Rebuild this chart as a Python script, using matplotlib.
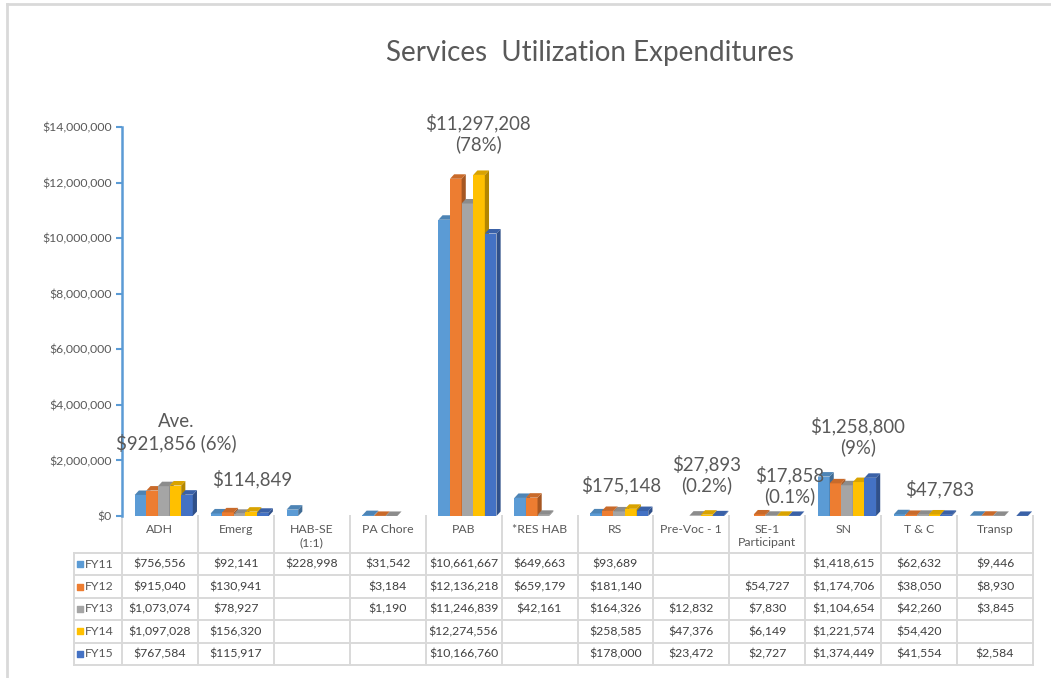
"""
Services utilization expenditures: 3D-look clustered columns with a data table underneath.
"""

import matplotlib
matplotlib.use("Agg")
import matplotlib.pyplot as plt
import numpy as np
from matplotlib.lines import Line2D
from matplotlib.patches import Polygon
from matplotlib.ticker import FuncFormatter

plt.rcParams["font.family"] = ["Lato", "DejaVu Sans"]

nan = np.nan

categories = ["ADH", "Emerg", "HAB-SE\n(1:1)", "PA Chore", "PAB", "*RES HAB", "RS",
              "Pre-Voc - 1", "SE-1\nParticipant", "SN", "T & C", "Transp"]
years = ["FY11", "FY12", "FY13", "FY14", "FY15"]

fy11 = [756556, 92141, 228998, 31542, 10661667, 649663, 93689, nan, nan, 1418615, 62632, 9446]
fy12 = [915040, 130941, nan, 3184, 12136218, 659179, 181140, nan, 54727, 1174706, 38050, 8930]
fy13 = [1073074, 78927, nan, 1190, 11246839, 42161, 164326, 12832, 7830, 1104654, 42260, 3845]
fy14 = [1097028, 156320, nan, nan, 12274556, nan, 258585, 47376, 6149, 1221574, 54420, nan]
fy15 = [767584, 115917, nan, nan, 10166760, nan, 178000, 23472, 2727, 1374449, 41554, 2584]
series = [fy11, fy12, fy13, fy14, fy15]

# average callouts per category (None = no callout)
avg_labels = ["Ave.\n$921,856 (6%)", "$114,849", None, None, "$11,297,208\n(78%)", None,
              "$175,148", "$27,893\n(0.2%)", "$17,858\n(0.1%)", "$1,258,800\n(9%)", "$47,783", None]

# callout placement (x shift in categories, y bottom in dollars)
label_dx = [0.22, 0.22, 0, 0, 0.19, 0, 0.08, 0.2, 0.3, 0.19, 0.27, 0]
label_y = [2.3e6, 1.0e6, 0, 0, 13.05e6, 0, 0.78e6, 0.78e6, 0.38e6, 2.15e6, 0.64e6, 0]

COLORS = ["#5B9BD5", "#ED7D31", "#A5A5A5", "#FFC000", "#4472C4"]
TEXT = "#595959"
GRID = "#D9D9D9"
W, H = 1051, 678
SMALL = 8.8


def darker(c, f):
    rgb = np.array(matplotlib.colors.to_rgb(c))
    return tuple(rgb * f)


fig = plt.figure(figsize=(W / 100, H / 100), dpi=100)
ax = fig.add_axes([122 / W, 1 - 516 / H, 911 / W, 389 / H])

x = np.arange(len(categories))
bw = 0.153
dx = 0.055          # depth offset in category units
dy = 14e6 * 4.5 / 389  # depth offset in dollars
shift = 0.05

z = 3
for i, (vals, col) in enumerate(zip(series, COLORS)):
    for xi, v in zip(x, vals):
        if np.isnan(v):
            continue
        xc = xi + shift + (i - 2) * bw
        l, r = xc - bw / 2, xc + bw / 2
        ax.bar(xc, v, bw, color=col, zorder=z, linewidth=0)
        side = Polygon([(r, 0), (r + dx, dy), (r + dx, v + dy), (r, v)],
                       closed=True, facecolor=darker(col, 0.7), edgecolor="none", zorder=z)
        top = Polygon([(l, v), (l + dx, v + dy), (r + dx, v + dy), (r, v)],
                      closed=True, facecolor=darker(col, 0.85), edgecolor="none", zorder=z)
        ax.add_patch(side)
        ax.add_patch(top)
        z += 0.01

ax.set_xlim(-0.5, len(categories) - 0.5)
ax.set_ylim(0, 14e6)
ax.set_yticks(np.arange(0, 14e6 + 1, 2e6))
ax.yaxis.set_major_formatter(FuncFormatter(lambda v, p: f"${v:,.0f}"))
ax.tick_params(axis="y", colors="#5B9BD5", labelcolor=TEXT, labelsize=8.8, length=4, width=1.5)
ax.set_xticks([])
for s in ["top", "right", "bottom"]:
    ax.spines[s].set_visible(False)
ax.spines["left"].set_color("#5B9BD5")
ax.spines["left"].set_linewidth(1.8)

# callouts
for xi, txt, ddx, yy in zip(x, avg_labels, label_dx, label_y):
    if txt is None:
        continue
    ax.text(xi + ddx, yy, txt, ha="center", va="bottom", fontsize=13.4,
            color=TEXT, linespacing=1.2, zorder=10)

# data table below the axes (axes-fraction y, data x)
trans = matplotlib.transforms.blended_transform_factory(ax.transData, ax.transAxes)
row_h = 22.4 / 389
header_bot = -37 / 389
row_tops = [header_bot - k * row_h for k in range(len(years) + 1)]
table_bot = row_tops[-1]
leg_left = -0.5 - 48 / 75.9
right = len(categories) - 0.5

lkw = dict(color=GRID, lw=1.4, transform=trans, clip_on=False, zorder=1)
for b in np.arange(-0.5, len(categories), 1.0):
    ax.add_line(Line2D([b, b], [0, table_bot], **lkw))
ax.add_line(Line2D([leg_left, leg_left], [header_bot, table_bot], **lkw))
for yy in row_tops:
    ax.add_line(Line2D([leg_left, right], [yy, yy], **lkw))

for xi, cat in zip(x, categories):
    ax.text(xi, -8 / 389, cat, ha="center", va="top", fontsize=SMALL, color=TEXT,
            linespacing=1.25, transform=trans, clip_on=False)

for k, (yr, vals, col) in enumerate(zip(years, series, COLORS)):
    ymid = row_tops[k] - row_h / 2
    ax.scatter([-1.05], [ymid], marker="s", s=24, color=col, transform=trans,
               clip_on=False, zorder=5)
    ax.text(-0.99, ymid, yr, ha="left", va="center", fontsize=SMALL, color=TEXT,
            transform=trans, clip_on=False)
    for xi, v in zip(x, vals):
        if np.isnan(v):
            continue
        ax.text(xi, ymid, f"${v:,.0f}", ha="center", va="center", fontsize=SMALL,
                color="#404040", transform=trans, clip_on=False)

fig.text(590 / W, 1 - 53 / H, "Services  Utilization Expenditures", ha="center",
         va="center", fontsize=20, color=TEXT)

# outer chart frame (runs off the right and bottom edge)
fig.add_artist(Line2D([7 / W, 1.01], [1 - 4 / H, 1 - 4 / H], color=GRID, lw=2,
                      transform=fig.transFigure))
fig.add_artist(Line2D([7 / W, 7 / W], [1 - 4 / H, -0.01], color=GRID, lw=2,
                      transform=fig.transFigure))

fig.savefig("out.png", dpi=100)
